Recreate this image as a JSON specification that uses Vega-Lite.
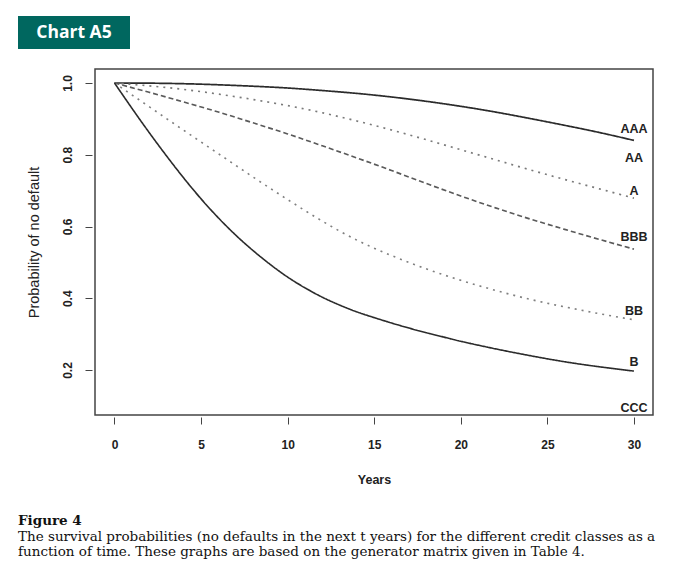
{
  "$schema": "https://vega.github.io/schema/vega-lite/v6.json",
  "padding": {"left": 18, "top": 16, "right": 0, "bottom": 0},
  "background": "white",
  "spacing": {"row": 19, "column": -111},
  "columns": 2,
  "align": "none",
  "datasets": {
    "curves": [
      {"class": "AAA", "t": 0, "p": 1.0}, {"class": "AAA", "t": 2, "p": 0.9995}, {"class": "AAA", "t": 4, "p": 0.998}, {"class": "AAA", "t": 6, "p": 0.995}, {"class": "AAA", "t": 8, "p": 0.991}, {"class": "AAA", "t": 10, "p": 0.986}, {"class": "AAA", "t": 12, "p": 0.979}, {"class": "AAA", "t": 14, "p": 0.971}, {"class": "AAA", "t": 16, "p": 0.961}, {"class": "AAA", "t": 18, "p": 0.949}, {"class": "AAA", "t": 20, "p": 0.935}, {"class": "AAA", "t": 22, "p": 0.919}, {"class": "AAA", "t": 24, "p": 0.901}, {"class": "AAA", "t": 26, "p": 0.882}, {"class": "AAA", "t": 28, "p": 0.862}, {"class": "AAA", "t": 30, "p": 0.84},
      {"class": "A", "t": 0, "p": 1.0}, {"class": "A", "t": 2, "p": 0.992}, {"class": "A", "t": 4, "p": 0.982}, {"class": "A", "t": 6, "p": 0.969}, {"class": "A", "t": 8, "p": 0.954}, {"class": "A", "t": 10, "p": 0.937}, {"class": "A", "t": 12, "p": 0.917}, {"class": "A", "t": 14, "p": 0.894}, {"class": "A", "t": 16, "p": 0.869}, {"class": "A", "t": 18, "p": 0.842}, {"class": "A", "t": 20, "p": 0.814}, {"class": "A", "t": 22, "p": 0.786}, {"class": "A", "t": 24, "p": 0.758}, {"class": "A", "t": 26, "p": 0.731}, {"class": "A", "t": 28, "p": 0.705}, {"class": "A", "t": 30, "p": 0.679},
      {"class": "BBB", "t": 0, "p": 1.0}, {"class": "BBB", "t": 2, "p": 0.974}, {"class": "BBB", "t": 4, "p": 0.947}, {"class": "BBB", "t": 6, "p": 0.919}, {"class": "BBB", "t": 8, "p": 0.889}, {"class": "BBB", "t": 10, "p": 0.858}, {"class": "BBB", "t": 12, "p": 0.825}, {"class": "BBB", "t": 14, "p": 0.791}, {"class": "BBB", "t": 16, "p": 0.756}, {"class": "BBB", "t": 18, "p": 0.72}, {"class": "BBB", "t": 20, "p": 0.685}, {"class": "BBB", "t": 22, "p": 0.652}, {"class": "BBB", "t": 24, "p": 0.621}, {"class": "BBB", "t": 26, "p": 0.592}, {"class": "BBB", "t": 28, "p": 0.564}, {"class": "BBB", "t": 30, "p": 0.537},
      {"class": "BB", "t": 0, "p": 1.0}, {"class": "BB", "t": 2, "p": 0.934}, {"class": "BB", "t": 4, "p": 0.868}, {"class": "BB", "t": 6, "p": 0.803}, {"class": "BB", "t": 8, "p": 0.738}, {"class": "BB", "t": 10, "p": 0.675}, {"class": "BB", "t": 12, "p": 0.615}, {"class": "BB", "t": 14, "p": 0.562}, {"class": "BB", "t": 16, "p": 0.519}, {"class": "BB", "t": 18, "p": 0.482}, {"class": "BB", "t": 20, "p": 0.45}, {"class": "BB", "t": 22, "p": 0.422}, {"class": "BB", "t": 24, "p": 0.397}, {"class": "BB", "t": 26, "p": 0.376}, {"class": "BB", "t": 28, "p": 0.357}, {"class": "BB", "t": 30, "p": 0.34},
      {"class": "B", "t": 0, "p": 1.0}, {"class": "B", "t": 1, "p": 0.93}, {"class": "B", "t": 2, "p": 0.862}, {"class": "B", "t": 3, "p": 0.797}, {"class": "B", "t": 4, "p": 0.735}, {"class": "B", "t": 5, "p": 0.677}, {"class": "B", "t": 6, "p": 0.624}, {"class": "B", "t": 7, "p": 0.576}, {"class": "B", "t": 8, "p": 0.533}, {"class": "B", "t": 9, "p": 0.494}, {"class": "B", "t": 10, "p": 0.459}, {"class": "B", "t": 11, "p": 0.429}, {"class": "B", "t": 12, "p": 0.403}, {"class": "B", "t": 13, "p": 0.381}, {"class": "B", "t": 14, "p": 0.362}, {"class": "B", "t": 15, "p": 0.346}, {"class": "B", "t": 16, "p": 0.331}, {"class": "B", "t": 17, "p": 0.317}, {"class": "B", "t": 18, "p": 0.304}, {"class": "B", "t": 19, "p": 0.292}, {"class": "B", "t": 20, "p": 0.28}, {"class": "B", "t": 22, "p": 0.259}, {"class": "B", "t": 24, "p": 0.24}, {"class": "B", "t": 26, "p": 0.223}, {"class": "B", "t": 28, "p": 0.209}, {"class": "B", "t": 30, "p": 0.197}
    ],
    "labels": [
      {"class": "AAA", "t": 30, "p": 0.872},
      {"class": "AA", "t": 30, "p": 0.791},
      {"class": "A", "t": 30, "p": 0.699},
      {"class": "BBB", "t": 30, "p": 0.571},
      {"class": "BB", "t": 30, "p": 0.365},
      {"class": "B", "t": 30, "p": 0.222},
      {"class": "CCC", "t": 30, "p": 0.094}
    ]
  },
  "title": {
    "text": "Figure 4",
    "subtitle": [
      "The survival probabilities (no defaults in the next t years) for the different credit classes as a",
      "function of time. These graphs are based on the generator matrix given in Table 4."
    ],
    "orient": "bottom",
    "anchor": "start",
    "frame": "bounds",
    "offset": 28,
    "font": "DejaVu Serif",
    "fontSize": 13.5,
    "fontWeight": "bold",
    "color": "#111111",
    "subtitleFont": "DejaVu Serif",
    "subtitleFontSize": 13.5,
    "subtitleFontWeight": "normal",
    "subtitleColor": "#111111",
    "subtitlePadding": 2,
    "subtitleLineHeight": 15
  },
  "concat": [
    {
      "width": 112,
      "height": 33,
      "view": {"fill": "#00675f", "stroke": null},
      "data": {"values": [{"label": "Chart A5"}]},
      "mark": {"type": "text", "color": "white", "font": "Open Sans", "fontWeight": "bold", "fontSize": 17.5, "baseline": "middle", "align": "center"},
      "encoding": {"text": {"field": "label", "type": "nominal"}}
    },
    {
      "width": 1,
      "height": 33,
      "view": {"stroke": null},
      "data": {"values": []},
      "mark": "text",
      "encoding": {}
    },
    {
      "width": 1,
      "height": 1,
      "view": {"stroke": null},
      "data": {"values": []},
      "mark": "text",
      "encoding": {}
    },
    {
      "width": 558,
      "height": 346,
      "view": {"stroke": "#444444", "strokeWidth": 1.5},
      "layer": [
        {
          "data": {"name": "curves"},
          "mark": {"type": "line", "interpolate": "natural"},
          "encoding": {
            "x": {
              "field": "t", "type": "quantitative",
              "scale": {"domain": [-1.126, 31.1], "nice": false, "zero": false},
              "axis": {
                "values": [0, 5, 10, 15, 20, 25, 30], "title": "Years", "offset": 2, "tickSize": 7,
                "domain": false, "grid": false, "labelFlush": false, "labelPadding": 15,
                "labelFont": "Liberation Sans", "labelFontSize": 12, "labelFontWeight": "bold", "labelColor": "#222222",
                "tickColor": "#444444", "titleFont": "Liberation Sans", "titleFontSize": 12.5, "titleFontWeight": "bold",
                "titleColor": "#222222", "titlePadding": 23
              }
            },
            "y": {
              "field": "p", "type": "quantitative",
              "scale": {"domain": [0.0746, 1.039], "nice": false, "zero": false},
              "axis": {
                "values": [0.2, 0.4, 0.6, 0.8, 1.0], "format": ".1f", "title": [" ", "Probability of no default"],
                "offset": 3, "tickSize": 7, "domain": false, "grid": false, "labelAngle": 270, "labelAlign": "center",
                "labelBaseline": "bottom", "labelPadding": 11, "labelFont": "Liberation Sans", "labelFontSize": 12,
                "labelFontWeight": "bold", "labelColor": "#222222", "tickColor": "#444444", "titleFont": "Liberation Sans",
                "titleFontSize": 14.5, "titleFontWeight": "normal", "titleColor": "#222222", "titlePadding": 20, "titleLineHeight": 6
              }
            },
            "color": {"field": "class", "type": "nominal", "scale": {"domain": ["AAA", "A", "BBB", "BB", "B"], "range": ["#2b2b2b", "#7a7a7a", "#5a5a5a", "#808080", "#2b2b2b"]}, "legend": null},
            "strokeDash": {"field": "class", "type": "nominal", "scale": {"domain": ["AAA", "A", "BBB", "BB", "B"], "range": [[1, 0], [2, 5], [5, 3], [2, 5], [1, 0]]}, "legend": null},
            "strokeWidth": {"field": "class", "type": "ordinal", "scale": {"domain": ["AAA", "A", "BBB", "BB", "B"], "range": [1.7, 1.6, 1.5, 1.6, 1.7]}, "legend": null}
          }
        },
        {
          "data": {"name": "labels"},
          "mark": {"type": "text", "font": "Liberation Sans", "fontWeight": "bold", "fontSize": 12.5, "color": "#222222", "align": "center", "baseline": "middle"},
          "encoding": {
            "x": {"field": "t", "type": "quantitative"},
            "y": {"field": "p", "type": "quantitative"},
            "text": {"field": "class", "type": "nominal"}
          }
        }
      ]
    }
  ]
}
